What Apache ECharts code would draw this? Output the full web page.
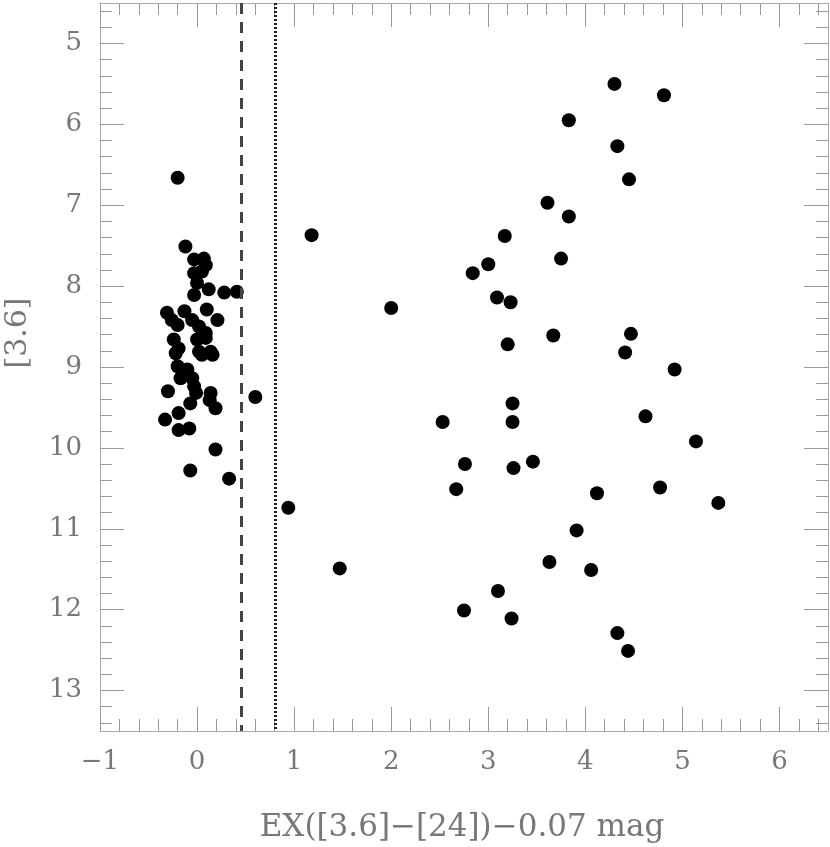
<!DOCTYPE html>
<html>
<head>
<meta charset="utf-8">
<script src="https://cdn.jsdelivr.net/npm/echarts@6/dist/echarts.min.js"></script>
<style>
  html, body { margin: 0; padding: 0; background: #fff; }
  #chart { width: 830px; height: 847px; }
</style>
</head>
<body>
<div id="chart"></div>
<script>
// sources near zero colour: [EX, [3.6]]
var nearZero = [
  [-0.20, 6.66], [-0.12, 7.51], [-0.03, 7.67], [0.07, 7.66], [0.09, 7.74],
  [-0.03, 7.84], [0.05, 7.82], [0.00, 7.96], [0.12, 8.04], [-0.03, 8.11],
  [0.28, 8.08], [0.41, 8.07], [0.10, 8.29], [-0.31, 8.33], [-0.13, 8.31],
  [0.21, 8.42], [-0.26, 8.42], [-0.20, 8.48], [-0.05, 8.42], [0.02, 8.50],
  [0.09, 8.58], [-0.24, 8.66], [0.00, 8.66], [0.09, 8.64], [-0.19, 8.77],
  [0.02, 8.81], [0.14, 8.81], [-0.22, 8.83], [0.05, 8.85], [0.16, 8.85],
  [-0.20, 8.99], [-0.10, 9.03], [-0.17, 9.14], [-0.05, 9.14], [-0.30, 9.30],
  [-0.03, 9.24], [-0.01, 9.32], [0.14, 9.32], [-0.07, 9.45], [0.13, 9.41],
  [0.19, 9.51], [-0.19, 9.57], [-0.33, 9.65], [-0.19, 9.78], [-0.08, 9.76],
  [0.19, 10.02], [-0.07, 10.28], [0.33, 10.38], [0.60, 9.37]
];

// sources with 24 micron excess
var excess = [
  [4.30, 5.50], [4.81, 5.64], [3.83, 5.95], [4.33, 6.27], [4.45, 6.68],
  [3.61, 6.97], [3.83, 7.14], [3.75, 7.66], [3.67, 8.61], [4.47, 8.59],
  [4.41, 8.82], [4.92, 9.03], [1.18, 7.37], [3.17, 7.38], [3.00, 7.73],
  [2.84, 7.84], [3.09, 8.14], [3.23, 8.20], [2.00, 8.27], [3.20, 8.72],
  [3.25, 9.45], [2.53, 9.68], [3.25, 9.68], [2.76, 10.20], [3.26, 10.25],
  [3.46, 10.17], [2.67, 10.51], [0.94, 10.74], [4.62, 9.61], [5.14, 9.92],
  [4.12, 10.56], [4.77, 10.49], [5.37, 10.68], [3.91, 11.02], [3.63, 11.41],
  [4.06, 11.51], [3.10, 11.77], [2.75, 12.01], [3.24, 12.11], [4.33, 12.29],
  [4.44, 12.51], [1.47, 11.49]
];

// vertical limits
var dashedLimit = 0.46;
var dottedLimit = 0.81;

var xRange = [-1, 6.5];
var yRange = [4.5, 13.5];
var xTicks = [-1, 0, 1, 2, 3, 4, 5, 6];
var yTicks = [5, 6, 7, 8, 9, 10, 11, 12, 13];

// minor ticks every 0.2 mag
function minorTicks(range) {
  var out = [];
  var start = Math.ceil(range[0] * 5 - 1e-9);
  for (var i = start; i / 5 <= range[1] + 1e-9; i++) out.push(Math.round(i * 20) / 100);
  return out;
}

var frameColor = "#aaa";
var tickColor = "#999";
var textColor = "#777";
var serif = "DejaVu Serif";

function axisBase(pos, range, ticks, len, withLabel, withLine) {
  return {
    type: "value",
    position: pos,
    min: range[0],
    max: range[1],
    splitLine: { show: false },
    axisLine: { show: withLine, onZero: false, lineStyle: { color: frameColor, width: 1 } },
    axisTick: { show: true, inside: true, length: len, customValues: ticks, lineStyle: { color: tickColor, width: 1 } },
    axisLabel: {
      show: withLabel,
      customValues: ticks,
      margin: 18,
      fontFamily: serif,
      fontSize: 26,
      color: textColor,
      formatter: function (v) {
        v = Math.round(v);
        return v < 0 ? "\u2212" + (-v) : String(v);
      },
    },
  };
}

var chart = echarts.init(document.getElementById("chart"), null, { renderer: "canvas" });

var yMajorLeft = axisBase("left", yRange, yTicks, 24, true, true);
var yMinorLeft = axisBase("left", yRange, minorTicks(yRange), 12, false, false);
var yMajorRight = axisBase("right", yRange, yTicks, 24, false, true);
var yMinorRight = axisBase("right", yRange, minorTicks(yRange), 12, false, false);
[yMajorLeft, yMinorLeft, yMajorRight, yMinorRight].forEach(function (a) { a.inverse = true; });

var option = {
  animation: false,
  backgroundColor: "#fff",
  grid: { left: 100, right: 2, top: 3, bottom: 116, containLabel: false },
  xAxis: [
    axisBase("bottom", xRange, xTicks, 24, true, true),
    axisBase("bottom", xRange, minorTicks(xRange), 12, false, false),
    axisBase("top", xRange, xTicks, 24, false, true),
    axisBase("top", xRange, minorTicks(xRange), 12, false, false),
  ],
  yAxis: [yMajorLeft, yMinorLeft, yMajorRight, yMinorRight],
  graphic: [
    {
      type: "text",
      x: 462,
      y: 828,
      style: {
        text: "EX([3.6]\u2212[24])\u22120.07 mag",
        fontFamily: serif,
        fontSize: 31,
        fill: textColor,
        align: "center",
        verticalAlign: "middle",
      },
    },
    {
      type: "text",
      x: 18,
      y: 333,
      rotation: Math.PI / 2,
      style: {
        text: "[3.6]",
        fontFamily: serif,
        fontSize: 30,
        fill: textColor,
        align: "center",
        verticalAlign: "middle",
      },
    },
  ],
  series: [
    {
      name: "nearZero",
      type: "scatter",
      xAxisIndex: 0,
      yAxisIndex: 0,
      symbol: "circle",
      symbolSize: 14,
      itemStyle: { color: "#000", opacity: 1 },
      data: nearZero,
      markLine: {
        silent: true,
        symbol: "none",
        label: { show: false },
        data: [
          { xAxis: dashedLimit, lineStyle: { type: [11, 8], width: 3, color: "#444" } },
          { xAxis: dottedLimit, lineStyle: { type: [2, 2], width: 3, color: "#222" } },
        ],
      },
    },
    {
      name: "excess",
      type: "scatter",
      xAxisIndex: 0,
      yAxisIndex: 0,
      symbol: "circle",
      symbolSize: 14,
      itemStyle: { color: "#000", opacity: 1 },
      data: excess,
    },
  ],
};

chart.setOption(option);
</script>
</body>
</html>
